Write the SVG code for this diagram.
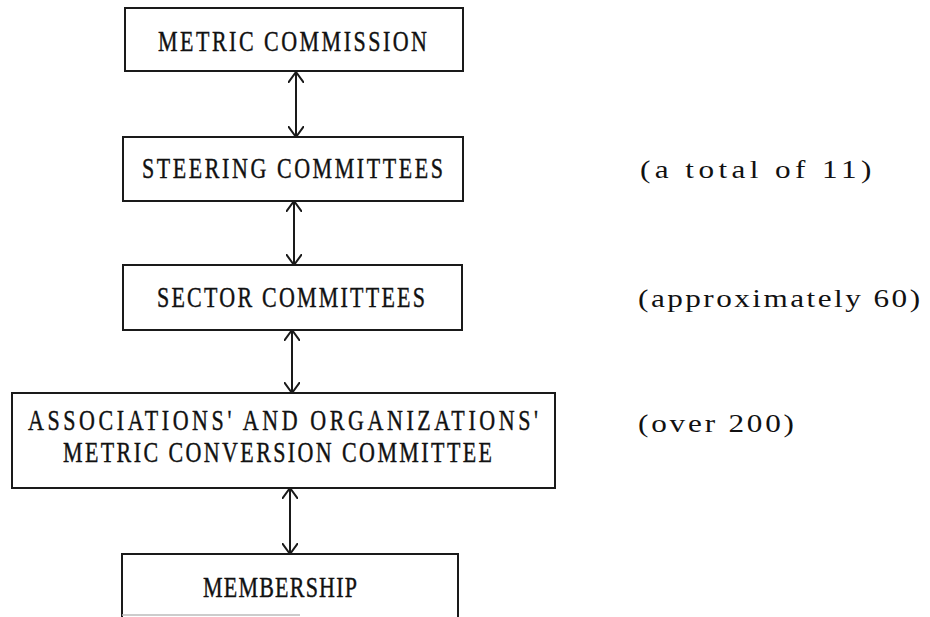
<svg xmlns="http://www.w3.org/2000/svg" width="930" height="617" viewBox="0 0 930 617">
<style>
.box{fill:none;stroke:#1a1a1a;stroke-width:2}
.lbl{font-family:"Liberation Serif","Times New Roman",serif;font-size:22px;fill:#111;stroke:#111;stroke-width:0.3}
.side{font-family:"Liberation Serif","Times New Roman",serif;font-size:24px;fill:#111}
.conn{fill:none;stroke:#1a1a1a;stroke-width:2;marker-start:url(#head);marker-end:url(#head)}
</style>
<defs>
<marker id="head" viewBox="0 0 12 16" refX="11" refY="8" markerWidth="12" markerHeight="16" markerUnits="userSpaceOnUse" orient="auto-start-reverse">
<path d="M0,0 L11,8 L0,16" fill="none" stroke="#1a1a1a" stroke-width="2"/>
</marker>
</defs>
<rect width="930" height="617" fill="#ffffff"/>
<g id="connectors">
<line class="conn" x1="296" y1="72" x2="296" y2="137"/>
<line class="conn" x1="294" y1="201" x2="294" y2="265"/>
<line class="conn" x1="292" y1="330" x2="292" y2="393"/>
<line class="conn" x1="290" y1="488" x2="290" y2="554"/>
</g>
<g id="metric-commission">
<rect class="box" x="125" y="8" width="338" height="63"/>
<text class="lbl" transform="translate(158,51) scale(1,1.35)" textLength="269" lengthAdjust="spacing">METRIC COMMISSION</text>
</g>
<g id="steering-committees">
<rect class="box" x="123" y="137" width="340" height="64"/>
<text class="lbl" transform="translate(142,178) scale(1,1.35)" textLength="301" lengthAdjust="spacing">STEERING COMMITTEES</text>
</g>
<g id="sector-committees">
<rect class="box" x="123" y="265" width="339" height="65"/>
<text class="lbl" transform="translate(157,307) scale(1,1.35)" textLength="268" lengthAdjust="spacing">SECTOR COMMITTEES</text>
</g>
<g id="associations">
<rect class="box" x="12" y="393" width="543" height="95"/>
<text class="lbl" transform="translate(28,430) scale(1,1.35)" textLength="510" lengthAdjust="spacing">ASSOCIATIONS' AND ORGANIZATIONS'</text>
<text class="lbl" transform="translate(63,462) scale(1,1.35)" textLength="429" lengthAdjust="spacing">METRIC CONVERSION COMMITTEE</text>
</g>
<g id="membership">
<path class="box" d="M122,617 L122,554 L458,554 L458,617"/>
<path d="M122,615 L300,615" fill="none" stroke="#bbbbbb" stroke-width="1.5"/>
<text class="lbl" transform="translate(203,597) scale(1,1.35)" textLength="154" lengthAdjust="spacing">MEMBERSHIP</text>
</g>
<g id="notes">
<text class="side" transform="translate(640,178) scale(1.3,1.05)" textLength="178" lengthAdjust="spacing">(a total of 11)</text>
<text class="side" transform="translate(638,307) scale(1.3,1.05)" textLength="217" lengthAdjust="spacing">(approximately 60)</text>
<text class="side" transform="translate(638,432) scale(1.3,1.05)" textLength="120" lengthAdjust="spacing">(over 200)</text>
</g>
</svg>
